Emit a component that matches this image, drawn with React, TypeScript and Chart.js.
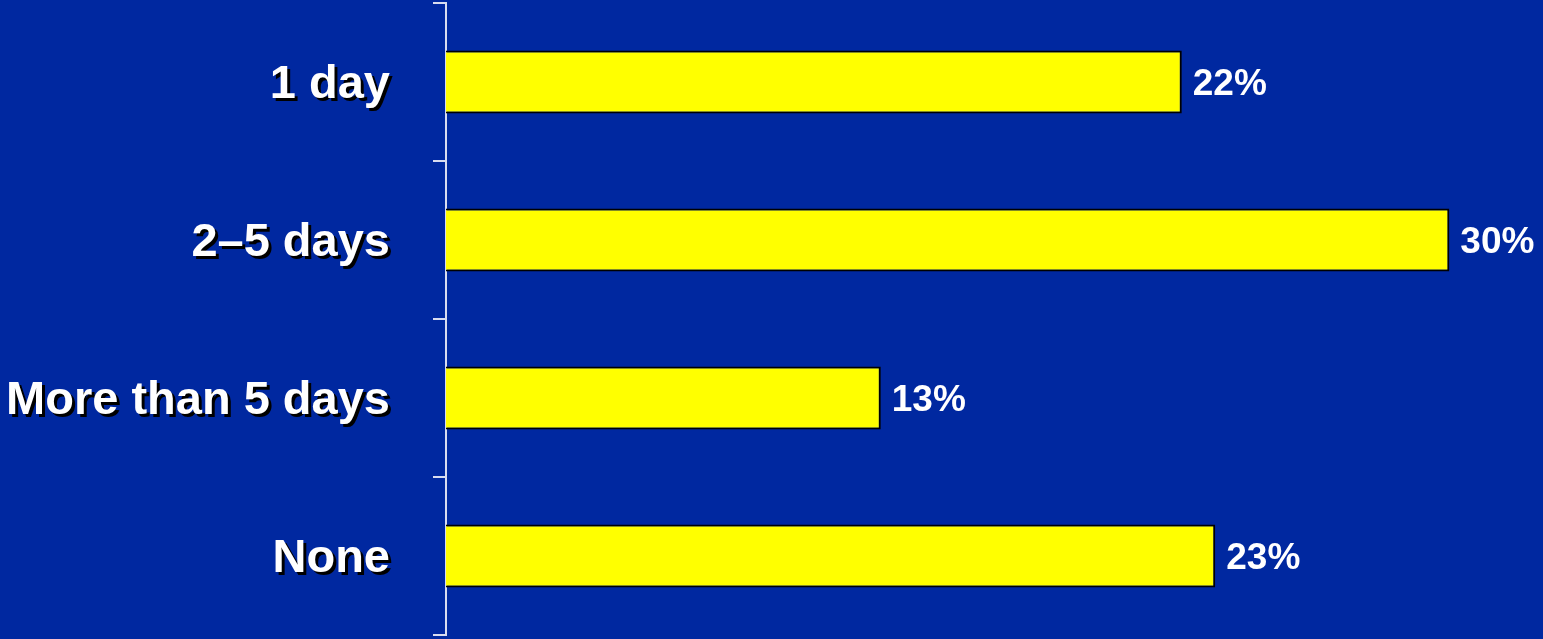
import React, { useEffect, useRef } from "react";
import { Chart, registerables } from "chart.js";

Chart.register(...registerables);

const categories = ["1 day", "2–5 days", "More than 5 days", "None"];
const values = [22, 30, 13, 23];
const valueLabels = ["22%", "30%", "13%", "23%"];

const BG = "#0028a0";
const FONT = "'Liberation Sans', Arial, sans-serif";

export default function App() {
  const ref = useRef<HTMLCanvasElement | null>(null);

  useEffect(() => {
    if (!ref.current) return;

    const labelPlugin = {
      id: "customLabels",
      afterDatasetsDraw(chart: any) {
        const ctx = chart.ctx;
        const x = chart.scales.x;
        const y = chart.scales.y;
        ctx.save();
        ctx.font = `bold 47px ${FONT}`;
        ctx.textAlign = "right";
        ctx.textBaseline = "middle";
        categories.forEach((c, i) => {
          const py = y.getPixelForValue(i) + 3;
          ctx.fillStyle = "#000000";
          ctx.fillText(c, 393, py + 3);
          ctx.fillStyle = "#ffffff";
          ctx.fillText(c, 390, py);
        });
        ctx.font = `bold 37px ${FONT}`;
        ctx.textAlign = "left";
        ctx.fillStyle = "#ffffff";
        values.forEach((v, i) => {
          const px = x.getPixelForValue(v) + 11;
          const py = y.getPixelForValue(i) + 3;
          ctx.fillText(valueLabels[i], px, py);
        });
        ctx.restore();
      },
    };

    const chart = new Chart(ref.current, {
      type: "bar",
      data: {
        labels: categories,
        datasets: [
          {
            data: values,
            backgroundColor: "#ffff00",
            borderColor: "#000000",
            borderWidth: 2,
            borderSkipped: "start",
            barPercentage: 0.4,
            categoryPercentage: 1,
          },
        ],
      },
      options: {
        indexAxis: "y",
        responsive: false,
        animation: false,
        maintainAspectRatio: false,
        layout: { padding: { top: 3, bottom: 4, left: 0, right: 0 } },
        plugins: {
          legend: { display: false },
          tooltip: { enabled: false },
        },
        scales: {
          x: {
            display: false,
            min: 0,
            max: 32.8,
          },
          y: {
            offset: true,
            z: 1,
            ticks: { display: false },
            grid: {
              offset: true,
              drawOnChartArea: false,
              drawTicks: true,
              tickLength: 13,
              color: "#d8dcf0",
              lineWidth: 2,
            },
            border: { display: true, color: "#d8dcf0", width: 2 },
            afterFit: (scale: any) => {
              scale.width = 446;
            },
          },
        },
      },
      plugins: [labelPlugin],
    });

    return () => chart.destroy();
  }, []);

  return (
    <div
      style={{
        position: "fixed",
        left: 0,
        top: 0,
        width: 1543,
        height: 639,
        background: BG,
      }}
    >
      <canvas ref={ref} width={1543} height={639} style={{ display: "block" }} />
    </div>
  );
}
